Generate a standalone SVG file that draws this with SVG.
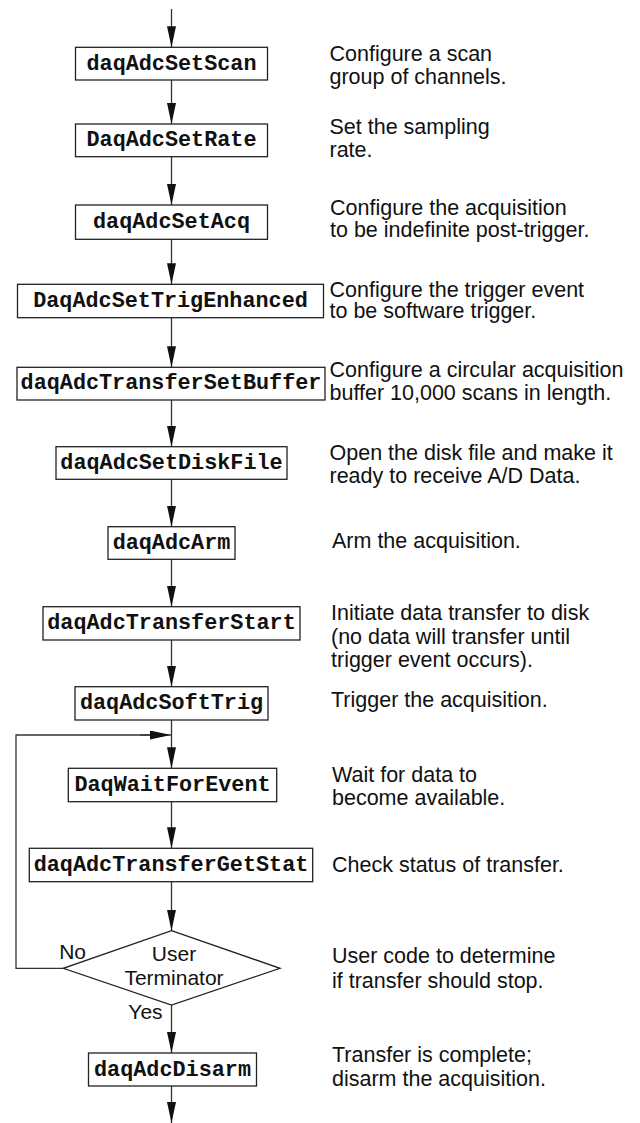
<svg xmlns="http://www.w3.org/2000/svg" width="640" height="1123" viewBox="0 0 640 1123">
<defs>
<marker id="ah" markerUnits="userSpaceOnUse" markerWidth="22" markerHeight="9" refX="21" refY="4.5" orient="auto">
<path d="M0,0 L21,4.5 L0,9 Z" fill="#111"/>
</marker>
<style>
.box{fill:#fff;stroke:#222;stroke-width:1.3}
.fn{font-family:"Liberation Mono","Courier New",monospace;font-weight:bold;font-size:21.8px;fill:#111;text-anchor:middle}
.ds{font-family:"Liberation Sans",Arial,Helvetica,sans-serif;font-size:21.5px;fill:#111}
.dt{font-family:"Liberation Sans",Arial,Helvetica,sans-serif;font-size:21px;fill:#111}
.ln{fill:none;stroke:#333;stroke-width:1.3}
.ar{fill:none;stroke:#333;stroke-width:1.3;marker-end:url(#ah)}
</style>
</defs>
<rect width="640" height="1123" fill="#fff"/>

<g id="connectors">
<line class="ar" x1="171.5" y1="9" x2="171.5" y2="47.3"/>
<line class="ar" x1="171.5" y1="80" x2="171.5" y2="124"/>
<line class="ar" x1="171.5" y1="156.7" x2="171.5" y2="205"/>
<line class="ar" x1="171.5" y1="239.3" x2="171.5" y2="284.3"/>
<line class="ar" x1="171.5" y1="317.7" x2="171.5" y2="367.3"/>
<line class="ar" x1="171.5" y1="400" x2="171.5" y2="446.7"/>
<line class="ar" x1="171.5" y1="479.3" x2="171.5" y2="526.7"/>
<line class="ar" x1="171.5" y1="559.3" x2="171.5" y2="606.7"/>
<line class="ar" x1="171.5" y1="640" x2="171.5" y2="686.7"/>
<line class="ar" x1="171.5" y1="720" x2="171.5" y2="768.3"/>
<line class="ar" x1="171.5" y1="801.7" x2="171.5" y2="848.3"/>
<line class="ar" x1="171.5" y1="881.7" x2="171.5" y2="930.7"/>
<line class="ar" x1="171.5" y1="1005" x2="171.5" y2="1053"/>
<line class="ar" x1="171.5" y1="1086" x2="171.5" y2="1123"/>
<polyline class="ln" points="63.3,968.3 16,968.3 16,735 150,735"/>
<line class="ar" x1="140" y1="735" x2="171" y2="735"/>
</g>

<g id="n1"><rect class="box" x="75.5" y="47.3" width="192" height="32.7"/><text class="fn" x="171.5" y="69.5">daqAdcSetScan</text></g>
<g id="d1"><text class="ds" x="329.5" y="60.7">Configure a scan</text><text class="ds" x="329.5" y="83.5">group of channels.</text></g>

<g id="n2"><rect class="box" x="75.5" y="124" width="192" height="32.7"/><text class="fn" x="171.5" y="146.2">DaqAdcSetRate</text></g>
<g id="d2"><text class="ds" x="329.5" y="134">Set the sampling</text><text class="ds" x="329.5" y="156.7">rate.</text></g>

<g id="n3"><rect class="box" x="75.5" y="205" width="192" height="34.3"/><text class="fn" x="171.5" y="228">daqAdcSetAcq</text></g>
<g id="d3"><text class="ds" x="330" y="215">Configure the acquisition</text><text class="ds" x="330" y="237">to be indefinite post-trigger.</text></g>

<g id="n4"><rect class="box" x="17.5" y="284.3" width="306" height="33.4"/><text class="fn" x="170.5" y="307">DaqAdcSetTrigEnhanced</text></g>
<g id="d4"><text class="ds" x="329.5" y="296.7">Configure the trigger event</text><text class="ds" x="329.5" y="318.3">to be software trigger.</text></g>

<g id="n5"><rect class="box" x="17" y="367.3" width="308" height="32.7"/><text class="fn" x="171" y="389.2">daqAdcTransferSetBuffer</text></g>
<g id="d5"><text class="ds" x="329.5" y="376.7">Configure a circular acquisition</text><text class="ds" x="329.5" y="400">buffer 10,000 scans in length.</text></g>

<g id="n6"><rect class="box" x="56" y="446.7" width="231" height="32.6"/><text class="fn" x="171.5" y="468.8">daqAdcSetDiskFile</text></g>
<g id="d6"><text class="ds" x="329.5" y="460">Open the disk file and make it</text><text class="ds" x="329.5" y="483">ready to receive A/D Data.</text></g>

<g id="n7"><rect class="box" x="108" y="526.7" width="127" height="32.6"/><text class="fn" x="171.5" y="548.8">daqAdcArm</text></g>
<g id="d7"><text class="ds" x="332" y="547.7">Arm the acquisition.</text></g>

<g id="n8"><rect class="box" x="43" y="606.7" width="257" height="33.3"/><text class="fn" x="171.5" y="629">daqAdcTransferStart</text></g>
<g id="d8"><text class="ds" x="331" y="620">Initiate data transfer to disk</text><text class="ds" x="331" y="643.5">(no data will transfer until</text><text class="ds" x="331" y="666.7">trigger event occurs).</text></g>

<g id="n9"><rect class="box" x="75" y="686.7" width="193" height="33.3"/><text class="fn" x="171.5" y="709">daqAdcSoftTrig</text></g>
<g id="d9"><text class="ds" x="331" y="707">Trigger the acquisition.</text></g>

<g id="n10"><rect class="box" x="68.3" y="768.3" width="208.4" height="33.4"/><text class="fn" x="172.5" y="790.8">DaqWaitForEvent</text></g>
<g id="d10"><text class="ds" x="332" y="781.7">Wait for data to</text><text class="ds" x="332" y="805">become available.</text></g>

<g id="n11"><rect class="box" x="29.3" y="848.3" width="283.4" height="33.4"/><text class="fn" x="171" y="871">daqAdcTransferGetStat</text></g>
<g id="d11"><text class="ds" x="332" y="871.7">Check status of transfer.</text></g>

<g id="n12"><polygon class="box" points="171.5,930.7 280,968.3 171.5,1005 63.3,968.3"/><text class="dt" x="174" y="961" text-anchor="middle">User</text><text class="dt" x="174" y="985" text-anchor="middle">Terminator</text><text class="dt" x="86" y="959.3" text-anchor="end">No</text><text class="dt" x="128.3" y="1019">Yes</text></g>
<g id="d12"><text class="ds" x="332" y="963.3">User code to determine</text><text class="ds" x="332" y="988.3">if transfer should stop.</text></g>

<g id="n13"><rect class="box" x="88.5" y="1053" width="168" height="33"/><text class="fn" x="172.5" y="1075.5">daqAdcDisarm</text></g>
<g id="d13"><text class="ds" x="332" y="1061.7">Transfer is complete;</text><text class="ds" x="332" y="1086">disarm the acquisition.</text></g>
</svg>
